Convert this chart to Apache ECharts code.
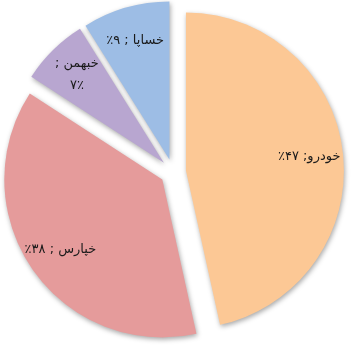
<!DOCTYPE html>
<html>
<head>
<meta charset="utf-8">
<script src="https://cdn.jsdelivr.net/npm/echarts@6/dist/echarts.min.js"></script>
<style>
html,body{margin:0;padding:0;background:#fff;}
#c{width:351px;height:346px;}
</style>
</head>
<body>
<div id="c"></div>
<script>
var names = ['خودرو', 'خپارس', 'خبهمن', 'خساپا'];
var values = [47, 38, 7, 9];
var labelTexts = ['خودرو; ۴۷٪', 'خپارس ; ۳۸٪', 'خبهمن ;\n۷٪', 'خساپا ; ۹٪'];
var colors = ['#FCC895', '#E59B9B', '#B8A6D0', '#9DBDE5'];

function rtl(s) {
  return s.split('\n').map(function (line) {
    return '\u202B' + line + '\u202C';
  }).join('\n');
}

var chart = echarts.init(document.getElementById('c'), null, {renderer: 'canvas'});

var mainData = names.map(function (n, i) {
  return {
    name: n, value: values[i], selected: true,
    itemStyle: {color: colors[i]}
  };
});
var labelData = names.map(function (n, i) {
  return {
    name: n, value: values[i], selected: true,
    label: {formatter: rtl(labelTexts[i])}
  };
});

var common = {
  type: 'pie',
  center: [173, 172],
  startAngle: 90,
  clockwise: true,
  selectedMode: 'multiple',
  selectedOffset: 13,
  avoidLabelOverlap: false,
  animation: false,
  emphasis: {scale: false, disabled: true},
  labelLine: {show: false}
};

chart.setOption({
  animation: false,
  series: [
    Object.assign({}, common, {
      radius: [0, 158],
      z: 2,
      itemStyle: {
        shadowBlur: 5,
        shadowColor: 'rgba(0,0,0,0.35)',
        shadowOffsetX: 1,
        shadowOffsetY: 2
      },
      select: {itemStyle: {}},
      label: {show: false},
      data: mainData
    }),
    Object.assign({}, common, {
      radius: [84, 158],
      z: 3,
      silent: true,
      itemStyle: {color: 'rgba(0,0,0,0)'},
      select: {itemStyle: {color: 'rgba(0,0,0,0)'}},
      label: {
        show: true,
        position: 'inside',
        color: '#1a1a1a',
        fontFamily: 'DejaVu Sans',
        fontSize: 13,
        lineHeight: 22,
        align: 'center'
      },
      data: labelData
    })
  ]
});
</script>
</body>
</html>
